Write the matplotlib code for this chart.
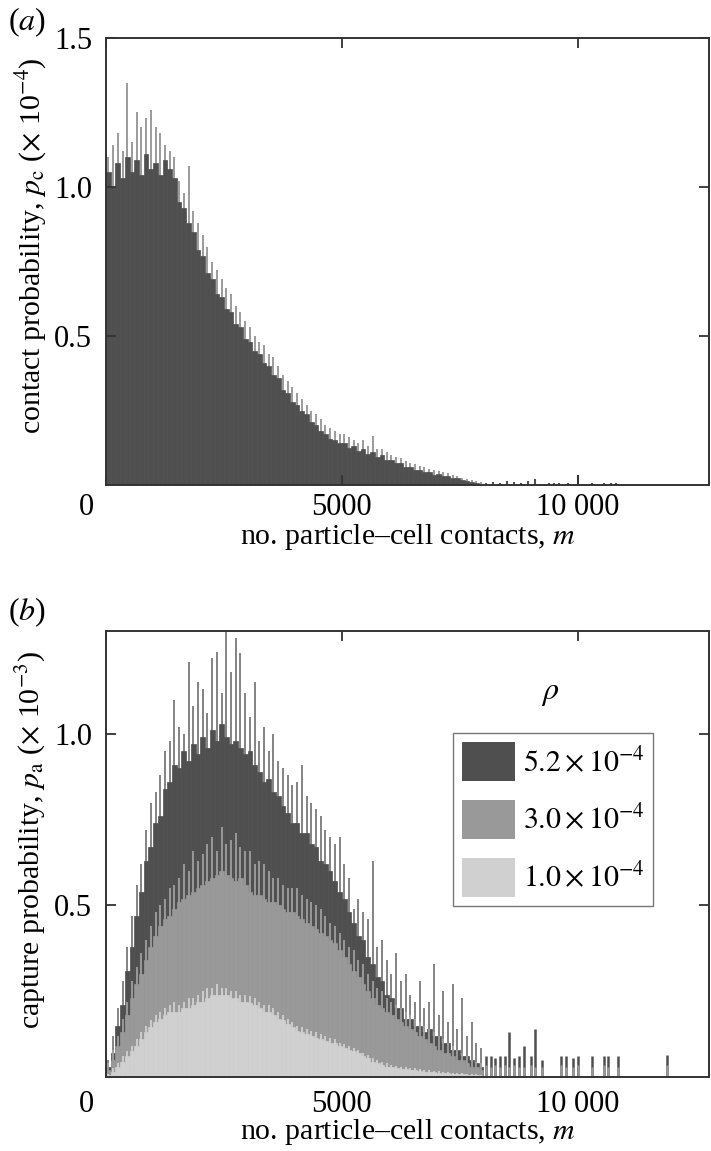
import numpy as np
import matplotlib
matplotlib.use('Agg')
import matplotlib.pyplot as plt
from matplotlib.patches import Patch
from matplotlib.transforms import ScaledTranslation

plt.rcParams['font.family'] = ['Liberation Serif', 'DejaVu Serif']
plt.rcParams['mathtext.fontset'] = 'stix'

# 直方图分箱：0~8000，每箱宽 100；尖刺位于箱中点
bin_width = 100
bin_left = np.arange(0, 8000, bin_width)
spike_m = np.arange(50, 8000, bin_width)

# (a) 接触概率 p_c (x 1e-4)
pc_vals = [1.05, 1.00, 1.08, 1.03, 1.10, 1.05, 1.09, 1.04, 1.11, 1.06,
           1.08, 1.04, 1.09, 1.06, 1.03, 0.95, 0.93, 0.88, 0.85, 0.79,
           0.77, 0.71, 0.69, 0.64, 0.63, 0.59, 0.58, 0.54, 0.53, 0.49,
           0.48, 0.45, 0.44, 0.41, 0.40, 0.37, 0.36, 0.32, 0.31, 0.28,
           0.27, 0.25, 0.24, 0.21, 0.20, 0.18, 0.17, 0.155, 0.15, 0.14,
           0.14, 0.125, 0.13, 0.115, 0.12, 0.105, 0.11, 0.095, 0.10, 0.085,
           0.085, 0.075, 0.075, 0.06, 0.06, 0.05, 0.05, 0.045, 0.045, 0.035,
           0.038, 0.03, 0.03, 0.024, 0.022, 0.016, 0.014, 0.009, 0.007, 0.004]
pc_spike = [1.10, 1.14, 1.18, 1.12, 1.35, 1.15, 1.25, 1.20, 1.23, 1.26,
            1.20, 1.18, 1.14, 1.12, 1.10, 1.02, 0.98, 1.07, 0.92, 0.88,
            0.84, 0.80, 0.75, 0.72, 0.69, 0.66, 0.64, 0.60, 0.58, 0.55,
            0.53, 0.50, 0.48, 0.47, 0.44, 0.43, 0.40, 0.37, 0.35, 0.33,
            0.31, 0.29, 0.27, 0.25, 0.24, 0.22, 0.20, 0.19, 0.18, 0.17,
            0.17, 0.16, 0.15, 0.14, 0.15, 0.13, 0.165, 0.12, 0.12, 0.11,
            0.10, 0.095, 0.09, 0.08, 0.075, 0.07, 0.065, 0.06, 0.055, 0.05,
            0.048, 0.044, 0.04, 0.035, 0.03, 0.025, 0.02, 0.016, 0.012, 0.009]
pc_tail_m = [8050, 8200, 8350, 8500, 8650, 8800, 8950, 9100, 9400, 9500,
             9600, 9800, 10000, 10300, 10550, 10700, 10800, 11900]
pc_tail_h = [0.008, 0.01, 0.007, 0.012, 0.01, 0.008, 0.015, 0.02, 0.008, 0.007,
             0.006, 0.006, 0.034, 0.006, 0.006, 0.007, 0.006, 0.005]

# (b) 捕获概率 p_a (x 1e-3)，三个 rho
rho_labels = [r'$5.2\times10^{-4}$', r'$3.0\times10^{-4}$', r'$1.0\times10^{-4}$']
pa_hi = [0.03, 0.07, 0.15, 0.21, 0.31, 0.38, 0.47, 0.54, 0.63, 0.67,
         0.74, 0.76, 0.84, 0.86, 0.91, 0.90, 0.95, 0.92, 0.97, 0.94,
         0.99, 0.96, 1.01, 0.98, 1.03, 0.99, 0.97, 0.98, 0.96, 0.94,
         0.95, 0.91, 0.89, 0.86, 0.87, 0.83, 0.82, 0.79, 0.77, 0.74,
         0.74, 0.71, 0.71, 0.68, 0.67, 0.63, 0.62, 0.60, 0.57, 0.54,
         0.52, 0.48, 0.45, 0.41, 0.40, 0.35, 0.33, 0.29, 0.28, 0.24,
         0.23, 0.20, 0.20, 0.17, 0.17, 0.15, 0.15, 0.13, 0.14, 0.12,
         0.12, 0.10, 0.10, 0.08, 0.08, 0.06, 0.06, 0.05, 0.04, 0.03]
pa_mid = [0.02, 0.05, 0.09, 0.13, 0.18, 0.23, 0.27, 0.30, 0.34, 0.38,
          0.41, 0.44, 0.46, 0.47, 0.49, 0.51, 0.52, 0.53, 0.54, 0.55,
          0.56, 0.57, 0.58, 0.59, 0.60, 0.59, 0.58, 0.57, 0.58, 0.56,
          0.54, 0.53, 0.53, 0.52, 0.51, 0.51, 0.50, 0.49, 0.48, 0.48,
          0.47, 0.46, 0.45, 0.44, 0.43, 0.42, 0.41, 0.40, 0.39, 0.37,
          0.35, 0.33, 0.31, 0.29, 0.27, 0.25, 0.23, 0.21, 0.20, 0.19,
          0.18, 0.17, 0.16, 0.15, 0.14, 0.13, 0.12, 0.11, 0.10, 0.09,
          0.08, 0.07, 0.07, 0.06, 0.05, 0.05, 0.04, 0.03, 0.03, 0.02]
pa_lo = [0.005, 0.015, 0.03, 0.045, 0.06, 0.075, 0.09, 0.11, 0.13, 0.145,
         0.16, 0.17, 0.18, 0.19, 0.19, 0.19, 0.20, 0.20, 0.21, 0.22,
         0.22, 0.23, 0.24, 0.24, 0.24, 0.24, 0.23, 0.23, 0.22, 0.22,
         0.215, 0.21, 0.20, 0.19, 0.19, 0.18, 0.17, 0.165, 0.155, 0.145,
         0.135, 0.13, 0.125, 0.12, 0.115, 0.11, 0.105, 0.10, 0.10, 0.09,
         0.085, 0.08, 0.075, 0.07, 0.06, 0.055, 0.045, 0.04, 0.035, 0.03,
         0.028, 0.026, 0.024, 0.022, 0.02, 0.02, 0.018, 0.016, 0.015, 0.014,
         0.013, 0.012, 0.011, 0.01, 0.009, 0.008, 0.007, 0.006, 0.005, 0.004]
hi_spike = [0.05, 0.12, 0.20, 0.28, 0.38, 0.47, 0.56, 0.62, 0.72, 0.80,
            0.83, 0.88, 0.95, 0.98, 1.10, 1.02, 1.00, 1.21, 1.08, 1.15,
            1.13, 1.06, 1.22, 1.24, 1.12, 1.30, 1.18, 1.28, 1.235, 1.12,
            1.05, 1.15, 0.98, 1.02, 0.95, 1.00, 0.92, 0.90, 0.88, 0.85,
            0.86, 0.91, 0.82, 0.80, 0.78, 0.76, 0.72, 0.70, 0.68, 0.70,
            0.62, 0.58, 0.49, 0.52, 0.48, 0.46, 0.63, 0.38, 0.40, 0.34,
            0.30, 0.36, 0.28, 0.30, 0.24, 0.22, 0.28, 0.20, 0.22, 0.33,
            0.18, 0.25, 0.16, 0.27, 0.14, 0.23, 0.12, 0.16, 0.10, 0.085]
mid_spike = [0.04, 0.08, 0.12, 0.17, 0.22, 0.28, 0.32, 0.36, 0.40, 0.44,
             0.48, 0.50, 0.52, 0.55, 0.56, 0.58, 0.62, 0.60, 0.66, 0.63,
             0.65, 0.68, 0.70, 0.66, 0.73, 0.68, 0.69, 0.71, 0.67, 0.66,
             0.66, 0.62, 0.63, 0.62, 0.60, 0.58, 0.58, 0.56, 0.55, 0.55,
             0.55, 0.53, 0.52, 0.51, 0.50, 0.49, 0.47, 0.45, 0.44, 0.42,
             0.40, 0.38, 0.37, 0.34, 0.33, 0.30, 0.28, 0.26, 0.25, 0.23,
             0.22, 0.21, 0.20, 0.19, 0.18, 0.17, 0.16, 0.15, 0.14, 0.13,
             0.12, 0.11, 0.10, 0.09, 0.08, 0.07, 0.06, 0.05, 0.045, 0.04]
lo_spike = [0.01, 0.025, 0.04, 0.06, 0.075, 0.09, 0.11, 0.13, 0.15, 0.165,
            0.18, 0.19, 0.20, 0.21, 0.22, 0.21, 0.22, 0.23, 0.23, 0.24,
            0.25, 0.26, 0.26, 0.27, 0.26, 0.26, 0.25, 0.25, 0.24, 0.24,
            0.235, 0.23, 0.22, 0.21, 0.21, 0.20, 0.19, 0.18, 0.17, 0.16,
            0.15, 0.145, 0.14, 0.135, 0.13, 0.125, 0.12, 0.115, 0.11, 0.10,
            0.095, 0.09, 0.085, 0.08, 0.07, 0.065, 0.055, 0.05, 0.045, 0.04,
            0.035, 0.033, 0.03, 0.028, 0.026, 0.025, 0.023, 0.02, 0.02, 0.018,
            0.017, 0.016, 0.014, 0.013, 0.012, 0.011, 0.01, 0.009, 0.008, 0.007]
pa_tail_m = [8050, 8150, 8250, 8350, 8450, 8550, 8650, 8750, 8850, 9000,
             9100, 9250, 9650, 9750, 9900, 10000, 10300, 10550, 10650, 10850, 11890]
pa_tail_hi = [0.06, 0.06, 0.055, 0.06, 0.06, 0.13, 0.055, 0.06, 0.09, 0.06,
              0.14, 0.05, 0.06, 0.06, 0.055, 0.06, 0.06, 0.06, 0.06, 0.06, 0.065]
pa_tail_mid = [0.035, 0.03, 0.035, 0.03, 0.035, 0.03, 0.035, 0.03, 0.03, 0.035,
               0.03, 0.03, 0.035, 0.03, 0.03, 0.035, 0.03, 0.035, 0.03, 0.03, 0.035]

c_dark = '#4f4f4f'
c_mid = '#999999'
c_light = '#d0d0d0'
spine_c = '#333333'
fs = 21.5

fig = plt.figure(figsize=(7.11, 11.51), dpi=100)
ax1 = fig.add_axes([0.1491, 0.5786, 0.848, 0.3884])
ax2 = fig.add_axes([0.1491, 0.0643, 0.848, 0.3875])

# ---- (a)
ax1.vlines(spike_m, 0, pc_spike, color='#8a8a8a', lw=1.2, zorder=0.5)
ax1.bar(bin_left, pc_vals, width=bin_width, align='edge', color=c_dark,
        edgecolor=c_dark, lw=0.5, zorder=1)
ax1.vlines(pc_tail_m, 0, pc_tail_h, color=c_dark, lw=1.5, zorder=1)
ax1.set_ylim(0, 1.5)
ax1.set_yticks([0.5, 1.0, 1.5])
ax1.set_yticklabels(['0.5', '1.0', '1.5'])
ax1.set_ylabel(r'contact probability, $p_{\mathrm{c}}$ ($\times$ 10$^{-4}$)',
               fontsize=fs, va='center')
ax1.yaxis.set_label_coords(-0.124, 0.535)
ax1.set_xlabel(r'no. particle–cell contacts, $m$', fontsize=fs, va='top')
ax1.xaxis.set_label_coords(0.5, -0.082)

# ---- (b)  三层直方图互相重叠，深色在下
ax2.vlines(spike_m, 0, hi_spike, color='#6e6e6e', lw=1.2, zorder=0.5)
ax2.bar(bin_left, pa_hi, width=bin_width, align='edge', color=c_dark,
        edgecolor=c_dark, lw=0.5, zorder=1)
ax2.vlines(pa_tail_m, 0, pa_tail_hi, color=c_dark, lw=1.8, zorder=1.1)
ax2.vlines(spike_m, 0, mid_spike, color='#a6a6a6', lw=1.2, zorder=1.5)
ax2.bar(bin_left, pa_mid, width=bin_width, align='edge', color=c_mid,
        edgecolor=c_mid, lw=0.5, zorder=2)
ax2.vlines(pa_tail_m, 0, pa_tail_mid, color=c_mid, lw=1.8, zorder=2.1)
ax2.vlines(spike_m, 0, lo_spike, color='#d6d6d6', lw=1.2, zorder=2.5)
ax2.bar(bin_left, pa_lo, width=bin_width, align='edge', color=c_light,
        edgecolor=c_light, lw=0.5, zorder=3)
ax2.set_ylim(0, 1.3)
ax2.set_yticks([0.5, 1.0])
ax2.set_yticklabels(['0.5', '1.0'])
ax2.set_ylabel(r'capture probability, $p_{\mathrm{a}}$ ($\times$ 10$^{-3}$)',
               fontsize=fs, va='center')
ax2.yaxis.set_label_coords(-0.124, 0.531)
ax2.set_xlabel(r'no. particle–cell contacts, $m$', fontsize=fs, va='top')
ax2.xaxis.set_label_coords(0.5, -0.09)

handles = [Patch(facecolor=c, edgecolor='none') for c in (c_dark, c_mid, c_light)]
leg = ax2.legend(handles, rho_labels, loc='upper left', bbox_to_anchor=(0.575, 0.771),
                 borderaxespad=0, fontsize=fs, frameon=True, fancybox=False,
                 handlelength=1.8, handleheight=1.65, handletextpad=0.25,
                 labelspacing=0.62, borderpad=0.3)
leg.set_zorder(6)
leg.get_frame().set_edgecolor('#555555')
leg.get_frame().set_linewidth(1.0)
fig.text(550 / 711, 1 - 693 / 1151, r'$\rho$', fontsize=23, ha='center', va='center')

for ax, xpad in ((ax1, 6), (ax2, 9.5)):
    ax.set_xlim(0, 12780)
    ax.set_xticks([0, 5000, 10000])
    ax.set_xticklabels(['0', '5000', '10 000'])
    ax.tick_params(direction='in', length=7, width=1.3, color=spine_c,
                   top=True, right=True, labelsize=22)
    ax.tick_params(axis='x', pad=xpad)
    ax.tick_params(axis='y', pad=10)
    for s in ax.spines.values():
        s.set_color(spine_c)
        s.set_linewidth(1.4)
        s.set_zorder(5)
    # "0" 标签往左挪一点
    lab0 = ax.get_xticklabels()[0]
    lab0.set_transform(lab0.get_transform() + ScaledTranslation(-0.2, 0, fig.dpi_scale_trans))

fig.text(27 / 711, 1 - 22 / 1151, r'($a$)', fontsize=23, ha='center', va='center')
fig.text(27 / 711, 1 - 612 / 1151, r'($b$)', fontsize=23, ha='center', va='center')

fig.savefig('out.png', dpi=100)
